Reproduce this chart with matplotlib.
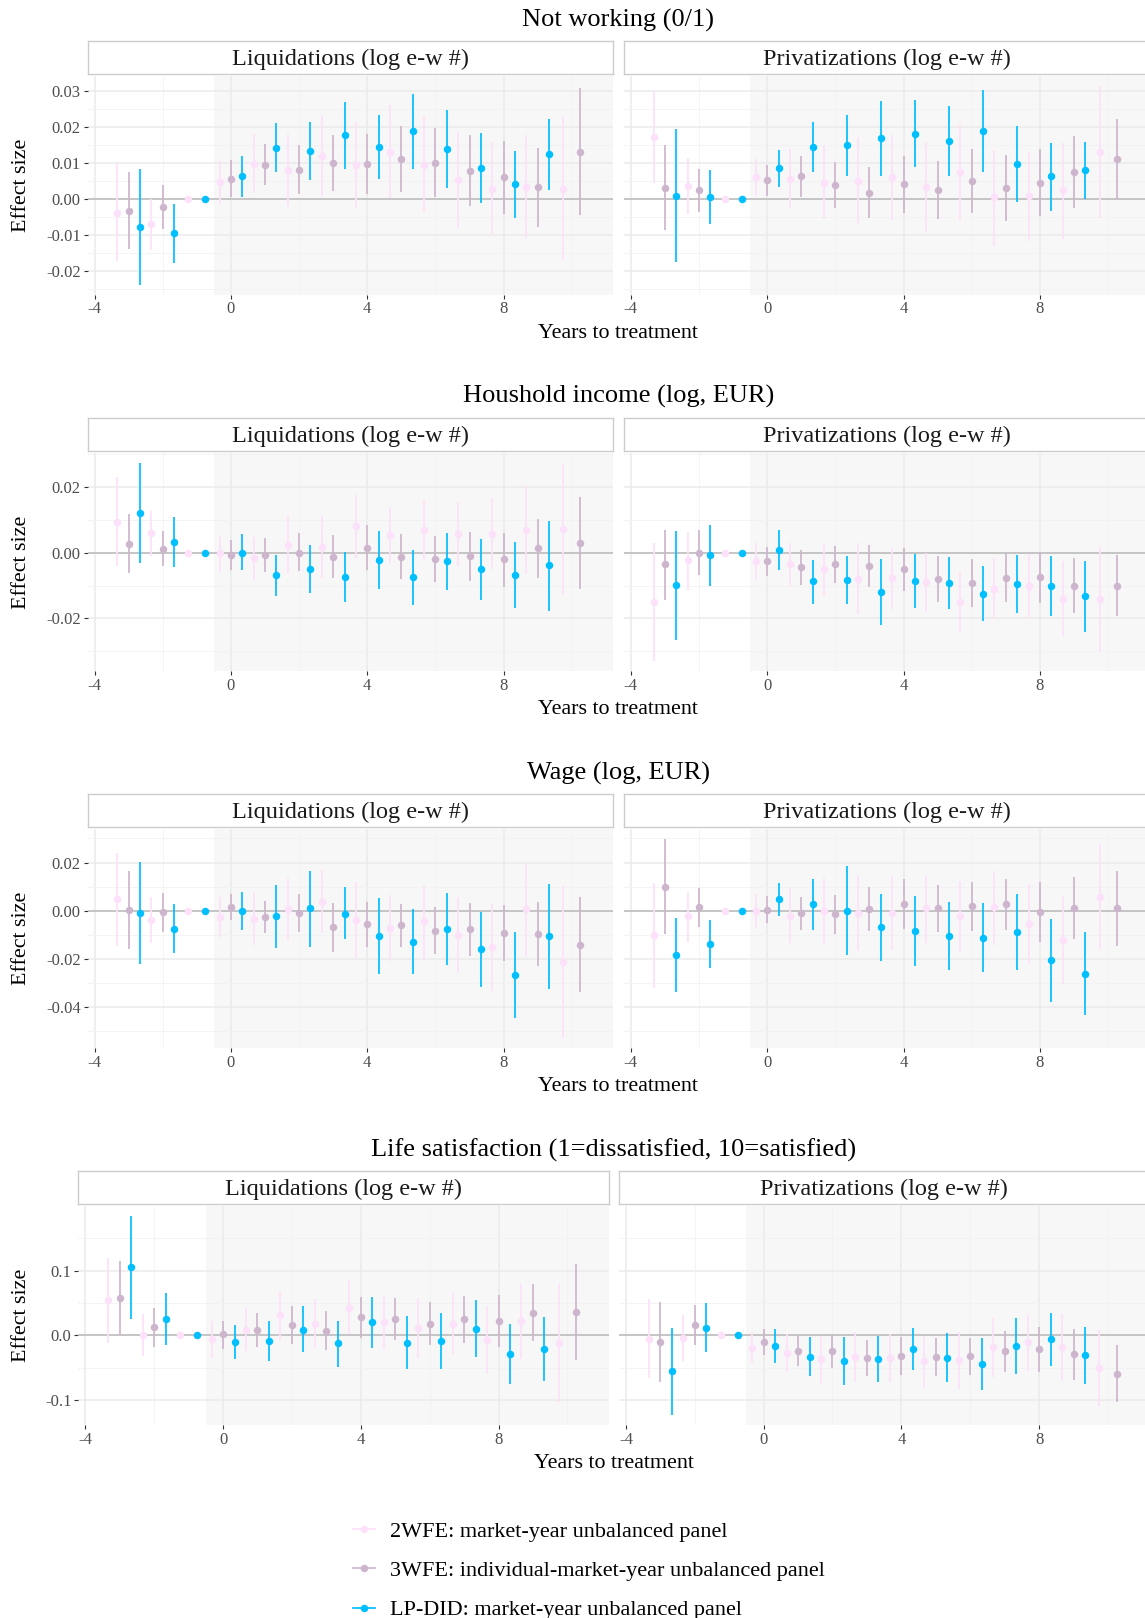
import matplotlib
matplotlib.use("Agg")
import matplotlib.pyplot as plt
from matplotlib.ticker import MultipleLocator, FuncFormatter
from matplotlib.lines import Line2D

plt.rcParams['font.family'] = ['Liberation Serif', 'DejaVu Serif']

# ---------------- data ----------------
T = list(range(-3, 11))  # years to treatment

ROW_TITLES = ["Not working (0/1)", "Houshold income (log, EUR)", "Wage (log, EUR)",
              "Life satisfaction (1=dissatisfied, 10=satisfied)"]
COL_TITLES = ["Liquidations (log e-w #)", "Privatizations (log e-w #)"]
SERIES = ["2WFE: market-year unbalanced panel",
          "3WFE: individual-market-year unbalanced panel",
          "LP-DID: market-year unbalanced panel"]
N = None

# Not working -- Liquidations
NW_LIQ_2WFE = [-0.0039, -0.0070, 0.0, 0.0047, 0.0097, 0.0081, 0.0120, 0.0094, 0.0130, 0.0095, 0.0053, 0.0028, 0.0033, 0.0028]
NW_LIQ_2WFE_LO = [-0.0174, -0.0143, 0.0, -0.0013, 0.0015, -0.0020, 0.0007, -0.0025, 0.0002, -0.0037, -0.0080, -0.0097, -0.0110, -0.0170]
NW_LIQ_2WFE_HI = [0.0097, 0.0000, 0.0, 0.0105, 0.0180, 0.0180, 0.0233, 0.0212, 0.0260, 0.0229, 0.0185, 0.0157, 0.0178, 0.0228]
NW_LIQ_3WFE = [-0.0034, -0.0023, N, 0.0056, 0.0095, 0.0081, 0.0099, 0.0096, 0.0110, 0.0100, 0.0078, 0.0059, 0.0032, 0.0130]
NW_LIQ_3WFE_LO = [-0.0140, -0.0085, N, 0.0006, 0.0037, 0.0012, 0.0022, 0.0012, 0.0018, 0.0006, -0.0021, -0.0042, -0.0077, -0.0046]
NW_LIQ_3WFE_HI = [0.0073, 0.0039, N, 0.0107, 0.0153, 0.0150, 0.0176, 0.0180, 0.0202, 0.0195, 0.0177, 0.0159, 0.0141, 0.0307]
NW_LIQ_LPDID = [-0.0077, -0.0096, 0.0, 0.0063, 0.0142, 0.0132, 0.0176, 0.0143, 0.0187, 0.0138, 0.0085, 0.0040, 0.0123, N]
NW_LIQ_LPDID_LO = [-0.0238, -0.0178, 0.0, 0.0006, 0.0074, 0.0051, 0.0082, 0.0055, 0.0083, 0.0031, -0.0012, -0.0053, 0.0024, N]
NW_LIQ_LPDID_HI = [0.0083, -0.0015, 0.0, 0.0118, 0.0210, 0.0213, 0.0269, 0.0233, 0.0290, 0.0245, 0.0183, 0.0132, 0.0222, N]

# Not working -- Privatizations
NW_PRI_2WFE = [0.0170, 0.0036, 0.0, 0.0061, 0.0055, 0.0044, 0.0050, 0.0059, 0.0033, 0.0074, 0.0004, 0.0008, 0.0023, 0.0130]
NW_PRI_2WFE_LO = [0.0044, -0.0043, 0.0, 0.0009, -0.0025, -0.0056, -0.0070, -0.0059, -0.0091, -0.0059, -0.0130, -0.0117, -0.0111, -0.0052]
NW_PRI_2WFE_HI = [0.0298, 0.0114, 0.0, 0.0111, 0.0137, 0.0145, 0.0171, 0.0176, 0.0157, 0.0207, 0.0134, 0.0129, 0.0155, 0.0313]
NW_PRI_3WFE = [0.0029, 0.0024, N, 0.0051, 0.0062, 0.0038, 0.0017, 0.0041, 0.0024, 0.0049, 0.0029, 0.0044, 0.0074, 0.0110]
NW_PRI_3WFE_LO = [-0.0088, -0.0036, N, 0.0008, 0.0006, -0.0026, -0.0054, -0.0039, -0.0057, -0.0039, -0.0063, -0.0048, -0.0025, 0.0000]
NW_PRI_3WFE_HI = [0.0148, 0.0083, N, 0.0094, 0.0118, 0.0101, 0.0088, 0.0120, 0.0105, 0.0138, 0.0122, 0.0138, 0.0173, 0.0222]
NW_PRI_LPDID = [0.0009, 0.0006, 0.0, 0.0084, 0.0144, 0.0149, 0.0168, 0.0180, 0.0160, 0.0188, 0.0097, 0.0062, 0.0079, N]
NW_PRI_LPDID_LO = [-0.0176, -0.0070, 0.0, 0.0033, 0.0074, 0.0064, 0.0064, 0.0088, 0.0064, 0.0074, -0.0009, -0.0033, 0.0000, N]
NW_PRI_LPDID_HI = [0.0194, 0.0081, 0.0, 0.0134, 0.0212, 0.0233, 0.0272, 0.0274, 0.0256, 0.0301, 0.0203, 0.0154, 0.0157, N]

# Household income -- Liquidations
HI_LIQ_2WFE = [0.0093, 0.0058, 0.0, -0.0001, -0.0018, 0.0023, 0.0016, 0.0080, 0.0052, 0.0068, 0.0055, 0.0057, 0.0068, 0.0071]
HI_LIQ_2WFE_LO = [-0.0041, -0.0011, 0.0, -0.0058, -0.0084, -0.0063, -0.0078, -0.0015, -0.0033, -0.0021, -0.0042, -0.0051, -0.0065, -0.0126]
HI_LIQ_2WFE_HI = [0.0228, 0.0126, 0.0, 0.0050, 0.0048, 0.0110, 0.0110, 0.0176, 0.0139, 0.0159, 0.0153, 0.0165, 0.0201, 0.0269]
HI_LIQ_3WFE = [0.0026, 0.0012, N, -0.0008, -0.0006, 0.0000, -0.0012, 0.0015, -0.0013, -0.0020, -0.0011, -0.0021, 0.0013, 0.0029]
HI_LIQ_3WFE_LO = [-0.0062, -0.0041, N, -0.0053, -0.0058, -0.0057, -0.0078, -0.0054, -0.0080, -0.0089, -0.0085, -0.0104, -0.0076, -0.0112]
HI_LIQ_3WFE_HI = [0.0116, 0.0064, N, 0.0037, 0.0045, 0.0060, 0.0053, 0.0084, 0.0055, 0.0049, 0.0063, 0.0059, 0.0103, 0.0170]
HI_LIQ_LPDID = [0.0121, 0.0031, 0.0, 0.0000, -0.0069, -0.0049, -0.0073, -0.0022, -0.0075, -0.0027, -0.0051, -0.0069, -0.0038, N]
HI_LIQ_LPDID_LO = [-0.0031, -0.0043, 0.0, -0.0053, -0.0133, -0.0123, -0.0149, -0.0111, -0.0159, -0.0115, -0.0144, -0.0169, -0.0176, N]
HI_LIQ_LPDID_HI = [0.0273, 0.0108, 0.0, 0.0056, -0.0006, 0.0024, 0.0002, 0.0066, 0.0007, 0.0059, 0.0041, 0.0031, 0.0097, N]

# Household income -- Privatizations
HI_PRI_2WFE = [-0.0150, -0.0024, 0.0, -0.0025, -0.0036, -0.0050, -0.0079, -0.0078, -0.0089, -0.0150, -0.0110, -0.0100, -0.0140, -0.0140]
HI_PRI_2WFE_LO = [-0.0330, -0.0114, 0.0, -0.0079, -0.0102, -0.0132, -0.0188, -0.0172, -0.0177, -0.0241, -0.0200, -0.0199, -0.0254, -0.0300]
HI_PRI_2WFE_HI = [0.0029, 0.0063, 0.0, 0.0029, 0.0029, 0.0030, 0.0028, 0.0015, -0.0002, -0.0059, -0.0018, -0.0003, -0.0026, 0.0017]
HI_PRI_3WFE = [-0.0036, 0.0000, N, -0.0026, -0.0044, -0.0035, -0.0041, -0.0050, -0.0080, -0.0091, -0.0077, -0.0074, -0.0100, -0.0100]
HI_PRI_3WFE_LO = [-0.0143, -0.0069, N, -0.0070, -0.0098, -0.0093, -0.0104, -0.0116, -0.0150, -0.0164, -0.0151, -0.0152, -0.0184, -0.0194]
HI_PRI_3WFE_HI = [0.0069, 0.0067, N, 0.0017, 0.0009, 0.0021, 0.0022, 0.0015, -0.0011, -0.0021, -0.0003, 0.0002, -0.0017, -0.0007]
HI_PRI_LPDID = [-0.0098, -0.0007, 0.0, 0.0009, -0.0087, -0.0083, -0.0120, -0.0085, -0.0091, -0.0125, -0.0095, -0.0103, -0.0133, N]
HI_PRI_LPDID_LO = [-0.0264, -0.0102, 0.0, -0.0053, -0.0156, -0.0157, -0.0220, -0.0169, -0.0172, -0.0208, -0.0184, -0.0194, -0.0240, N]
HI_PRI_LPDID_HI = [0.0066, 0.0085, 0.0, 0.0069, -0.0022, -0.0011, -0.0020, -0.0003, -0.0013, -0.0042, -0.0008, -0.0011, -0.0026, N]

# Wage -- Liquidations
WG_LIQ_2WFE = [0.0047, -0.0037, 0.0, -0.0025, -0.0033, 0.0008, 0.0037, -0.0040, -0.0073, -0.0044, -0.0101, -0.0151, 0.0008, -0.0211]
WG_LIQ_2WFE_LO = [-0.0148, -0.0132, 0.0, -0.0108, -0.0142, -0.0122, -0.0093, -0.0199, -0.0210, -0.0199, -0.0256, -0.0332, -0.0190, -0.0527]
WG_LIQ_2WFE_HI = [0.0241, 0.0058, 0.0, 0.0055, 0.0075, 0.0134, 0.0167, 0.0118, 0.0064, 0.0108, 0.0055, 0.0030, 0.0197, 0.0104]
WG_LIQ_3WFE = [0.0003, -0.0005, N, 0.0016, -0.0026, -0.0008, -0.0068, -0.0056, -0.0060, -0.0084, -0.0077, -0.0093, -0.0096, -0.0140]
WG_LIQ_3WFE_LO = [-0.0159, -0.0088, N, -0.0038, -0.0093, -0.0088, -0.0170, -0.0151, -0.0151, -0.0181, -0.0186, -0.0210, -0.0230, -0.0336]
WG_LIQ_3WFE_HI = [0.0163, 0.0075, N, 0.0068, 0.0041, 0.0071, 0.0033, 0.0038, 0.0030, 0.0014, 0.0034, 0.0025, 0.0037, 0.0056]
WG_LIQ_LPDID = [-0.0008, -0.0075, 0.0, 0.0000, -0.0023, 0.0011, -0.0012, -0.0104, -0.0129, -0.0077, -0.0160, -0.0267, -0.0105, N]
WG_LIQ_LPDID_LO = [-0.0219, -0.0174, 0.0, -0.0081, -0.0153, -0.0149, -0.0119, -0.0262, -0.0264, -0.0223, -0.0314, -0.0444, -0.0325, N]
WG_LIQ_LPDID_HI = [0.0203, 0.0026, 0.0, 0.0079, 0.0107, 0.0166, 0.0097, 0.0053, 0.0008, 0.0073, -0.0007, -0.0088, 0.0112, N]

# Wage -- Privatizations
WG_PRI_2WFE = [-0.0100, -0.0022, 0.0, 0.0000, -0.0021, -0.0003, -0.0011, -0.0011, 0.0010, -0.0022, 0.0014, -0.0056, -0.0121, 0.0058]
WG_PRI_2WFE_LO = [-0.0318, -0.0129, 0.0, -0.0070, -0.0134, -0.0142, -0.0168, -0.0162, -0.0134, -0.0168, -0.0142, -0.0220, -0.0304, -0.0160]
WG_PRI_2WFE_HI = [0.0116, 0.0078, 0.0, 0.0068, 0.0093, 0.0136, 0.0148, 0.0142, 0.0145, 0.0120, 0.0163, 0.0110, 0.0063, 0.0275]
WG_PRI_3WFE = [0.0100, 0.0016, N, 0.0004, -0.0011, -0.0012, 0.0008, 0.0030, 0.0011, 0.0018, 0.0027, -0.0005, 0.0012, 0.0011]
WG_PRI_3WFE_LO = [-0.0097, -0.0066, N, -0.0052, -0.0079, -0.0095, -0.0085, -0.0074, -0.0089, -0.0084, -0.0079, -0.0130, -0.0116, -0.0148]
WG_PRI_3WFE_HI = [0.0296, 0.0096, N, 0.0060, 0.0056, 0.0067, 0.0100, 0.0132, 0.0105, 0.0118, 0.0132, 0.0118, 0.0140, 0.0164]
WG_PRI_LPDID = [-0.0184, -0.0138, 0.0, 0.0048, 0.0026, 0.0000, -0.0067, -0.0084, -0.0104, -0.0111, -0.0086, -0.0205, -0.0260, N]
WG_PRI_LPDID_LO = [-0.0336, -0.0238, 0.0, -0.0021, -0.0081, -0.0182, -0.0207, -0.0230, -0.0247, -0.0252, -0.0244, -0.0378, -0.0433, N]
WG_PRI_LPDID_HI = [-0.0032, -0.0038, 0.0, 0.0115, 0.0132, 0.0184, 0.0070, 0.0063, 0.0037, 0.0032, 0.0068, -0.0034, -0.0088, N]

# Life satisfaction -- Liquidations
LS_LIQ_2WFE = [0.054, 0.000, 0.0, -0.0056, 0.0092, 0.031, 0.018, 0.043, 0.020, 0.0117, 0.018, -0.0066, 0.022, -0.0117]
LS_LIQ_2WFE_LO = [-0.011, -0.032, 0.0, -0.034, -0.024, -0.007, -0.020, 0.0015, -0.021, -0.034, -0.029, -0.058, -0.036, -0.103]
LS_LIQ_2WFE_HI = [0.120, 0.033, 0.0, 0.022, 0.042, 0.069, 0.056, 0.085, 0.062, 0.058, 0.066, 0.045, 0.080, 0.079]
LS_LIQ_3WFE = [0.057, 0.0128, N, 0.0015, 0.0087, 0.016, 0.0071, 0.028, 0.025, 0.018, 0.025, 0.022, 0.035, 0.036]
LS_LIQ_3WFE_LO = [0.0005, -0.017, N, -0.021, -0.018, -0.013, -0.023, -0.004, -0.007, -0.014, -0.011, -0.018, -0.0087, -0.038]
LS_LIQ_3WFE_HI = [0.114, 0.043, N, 0.023, 0.034, 0.046, 0.037, 0.060, 0.057, 0.051, 0.061, 0.062, 0.079, 0.110]
LS_LIQ_LPDID = [0.105, 0.0255, 0.0, -0.0097, -0.0087, 0.0092, -0.0122, 0.020, -0.0112, -0.0082, 0.0107, -0.0286, -0.021, N]
LS_LIQ_LPDID_LO = [0.026, -0.015, 0.0, -0.036, -0.039, -0.026, -0.048, -0.020, -0.052, -0.0515, -0.033, -0.075, -0.070, N]
LS_LIQ_LPDID_HI = [0.184, 0.066, 0.0, 0.016, 0.022, 0.045, 0.023, 0.060, 0.030, 0.035, 0.054, 0.018, 0.028, N]

# Life satisfaction -- Privatizations
LS_PRI_2WFE = [-0.0051, -0.0046, 0.0, -0.019, -0.0265, -0.037, -0.033, -0.035, -0.040, -0.038, -0.018, -0.0107, -0.018, -0.050]
LS_PRI_2WFE_LO = [-0.066, -0.040, 0.0, -0.043, -0.057, -0.075, -0.071, -0.072, -0.080, -0.082, -0.064, -0.055, -0.070, -0.109]
LS_PRI_2WFE_HI = [0.0566, 0.031, 0.0, 0.0046, 0.002, -0.0015, 0.0046, 0.0015, -0.001, 0.0056, 0.0276, 0.032, 0.033, 0.0092]
LS_PRI_3WFE = [-0.0097, 0.0163, N, -0.0097, -0.024, -0.024, -0.0347, -0.032, -0.0327, -0.0316, -0.024, -0.0214, -0.0286, -0.059]
LS_PRI_3WFE_LO = [-0.071, -0.015, N, -0.030, -0.047, -0.050, -0.062, -0.061, -0.062, -0.061, -0.0556, -0.057, -0.068, -0.1026]
LS_PRI_3WFE_HI = [0.051, 0.047, N, 0.0102, -0.001, 0.0015, -0.007, -0.0026, -0.004, -0.004, 0.007, 0.0138, 0.0102, -0.015]
LS_PRI_LPDID = [-0.0546, 0.0122, 0.0, -0.0158, -0.0327, -0.039, -0.037, -0.0204, -0.0347, -0.044, -0.0163, -0.0061, -0.0306, N]
LS_PRI_LPDID_LO = [-0.122, -0.025, 0.0, -0.042, -0.062, -0.0765, -0.0714, -0.053, -0.072, -0.084, -0.059, -0.047, -0.0745, N]
LS_PRI_LPDID_HI = [0.0117, 0.0495, 0.0, 0.0102, -0.003, -0.0026, -0.0015, 0.012, 0.004, -0.004, 0.027, 0.0347, 0.0133, N]

PANEL_DATA = {
    (0, 0): [(NW_LIQ_2WFE, NW_LIQ_2WFE_LO, NW_LIQ_2WFE_HI), (NW_LIQ_3WFE, NW_LIQ_3WFE_LO, NW_LIQ_3WFE_HI), (NW_LIQ_LPDID, NW_LIQ_LPDID_LO, NW_LIQ_LPDID_HI)],
    (0, 1): [(NW_PRI_2WFE, NW_PRI_2WFE_LO, NW_PRI_2WFE_HI), (NW_PRI_3WFE, NW_PRI_3WFE_LO, NW_PRI_3WFE_HI), (NW_PRI_LPDID, NW_PRI_LPDID_LO, NW_PRI_LPDID_HI)],
    (1, 0): [(HI_LIQ_2WFE, HI_LIQ_2WFE_LO, HI_LIQ_2WFE_HI), (HI_LIQ_3WFE, HI_LIQ_3WFE_LO, HI_LIQ_3WFE_HI), (HI_LIQ_LPDID, HI_LIQ_LPDID_LO, HI_LIQ_LPDID_HI)],
    (1, 1): [(HI_PRI_2WFE, HI_PRI_2WFE_LO, HI_PRI_2WFE_HI), (HI_PRI_3WFE, HI_PRI_3WFE_LO, HI_PRI_3WFE_HI), (HI_PRI_LPDID, HI_PRI_LPDID_LO, HI_PRI_LPDID_HI)],
    (2, 0): [(WG_LIQ_2WFE, WG_LIQ_2WFE_LO, WG_LIQ_2WFE_HI), (WG_LIQ_3WFE, WG_LIQ_3WFE_LO, WG_LIQ_3WFE_HI), (WG_LIQ_LPDID, WG_LIQ_LPDID_LO, WG_LIQ_LPDID_HI)],
    (2, 1): [(WG_PRI_2WFE, WG_PRI_2WFE_LO, WG_PRI_2WFE_HI), (WG_PRI_3WFE, WG_PRI_3WFE_LO, WG_PRI_3WFE_HI), (WG_PRI_LPDID, WG_PRI_LPDID_LO, WG_PRI_LPDID_HI)],
    (3, 0): [(LS_LIQ_2WFE, LS_LIQ_2WFE_LO, LS_LIQ_2WFE_HI), (LS_LIQ_3WFE, LS_LIQ_3WFE_LO, LS_LIQ_3WFE_HI), (LS_LIQ_LPDID, LS_LIQ_LPDID_LO, LS_LIQ_LPDID_HI)],
    (3, 1): [(LS_PRI_2WFE, LS_PRI_2WFE_LO, LS_PRI_2WFE_HI), (LS_PRI_3WFE, LS_PRI_3WFE_LO, LS_PRI_3WFE_HI), (LS_PRI_LPDID, LS_PRI_LPDID_LO, LS_PRI_LPDID_HI)],
}

# ---------------- style ----------------
COLORS = ['#FDE0FA', '#CDB5CD', '#00BFFF']
Y_STEP = [0.01, 0.02, 0.02, 0.1]
Y_DEC = [2, 2, 2, 1]

W, H = 1145, 1618
fig = plt.figure(figsize=(W / 100, H / 100), dpi=100)
fig.patch.set_facecolor('white')


def rect(l, t, w, h):
    return [l / W, 1 - (t + h) / H, w / W, h / H]


ROW_PITCH = 376.7
PANEL_TOP0 = 76.0
PANEL_H = 218.5
TITLE_FS, STRIP_FS, LAB_FS, TICK_FS, LEG_FS = 19, 17.5, 15.8, 12, 16


def dodge(series_list):
    n_t = len(T)
    xs = [[None] * n_t for _ in series_list]
    for i in range(n_t):
        present = [k for k, s in enumerate(series_list) if s[0][i] is not None]
        n = len(present)
        for j, k in enumerate(present):
            xs[k][i] = T[i] + (j + 0.5) / n - 0.5
    return xs

x_span = (max(T) + 0.5) - (min(T) - 0.5)
XLIM = (min(T) - 0.5 - 0.05 * x_span, max(T) + 0.5 + 0.05 * x_span)


def fmt_factory(dec):
    def f(v, pos):
        if abs(v) < 1e-12:
            v = 0.0
        return f"{v:.{dec}f}"
    return f


for r in range(4):
    top = PANEL_TOP0 + r * ROW_PITCH
    if r < 3:
        lefts, pw = [87.7, 624.0], 525.0
    else:
        lefts, pw = [78.4, 619.0], 530.3
    vals = []
    for c in range(2):
        for est, lo, hi in PANEL_DATA[(r, c)]:
            vals += [v for v in lo if v is not None] + [v for v in hi if v is not None]
    ymin, ymax = min(vals), max(vals)
    yr = ymax - ymin
    ylim = (ymin - 0.05 * yr, ymax + 0.05 * yr)

    for c in range(2):
        ax = fig.add_axes(rect(lefts[c], top, pw, PANEL_H))
        ax.set_xlim(*XLIM)
        ax.set_ylim(*ylim)
        for sp in ax.spines.values():
            sp.set_visible(False)
        ax.set_axisbelow(True)
        ax.axvspan(-0.5, XLIM[1], color='#F7F7F7', zorder=0.1, lw=0)
        ax.xaxis.set_major_locator(MultipleLocator(4))
        ax.xaxis.set_minor_locator(MultipleLocator(2))
        ax.yaxis.set_major_locator(MultipleLocator(Y_STEP[r]))
        ax.yaxis.set_minor_locator(MultipleLocator(Y_STEP[r] / 2))
        ax.grid(which='major', color='#EBEBEB', lw=1.1)
        ax.grid(which='minor', color='#F2F2F2', lw=0.6)
        ax.xaxis.set_major_formatter(FuncFormatter(lambda v, p: f"{int(round(v))}"))
        ax.yaxis.set_major_formatter(FuncFormatter(fmt_factory(Y_DEC[r])))
        ax.tick_params(which='major', direction='out', length=3, width=0.8, color='#333333',
                       labelsize=TICK_FS, labelcolor='#4D4D4D', pad=2)
        ax.tick_params(which='minor', length=0)
        if c == 1:
            ax.tick_params(axis='y', which='both', left=False, labelleft=False)
        ax.axhline(0, color='#BEBEBE', lw=1.2, zorder=1)

        series_list = PANEL_DATA[(r, c)]
        xs = dodge(series_list)
        for k, (est, lo, hi) in enumerate(series_list):
            px = [x for x, e in zip(xs[k], est) if e is not None]
            pe = [e for e in est if e is not None]
            pl = [l for l, e in zip(lo, est) if e is not None]
            ph = [h for h, e in zip(hi, est) if e is not None]
            ax.vlines(px, pl, ph, color=COLORS[k], lw=1.25, zorder=2 + k)
            ax.plot(px, pe, 'o', ms=5.4, color=COLORS[k], mec='none', zorder=2.5 + k)

        sax = fig.add_axes(rect(lefts[c], top - 35, pw, 33))
        sax.set_xticks([]); sax.set_yticks([])
        sax.set_facecolor('white')
        for sp in sax.spines.values():
            sp.set_color('#CCCCCC'); sp.set_linewidth(1.0)
        sax.text(0.5, 0.44, COL_TITLES[c], ha='center', va='center', fontsize=STRIP_FS,
                 color='#1A1A1A', transform=sax.transAxes)

    cx = (lefts[0] + lefts[1] + pw) / 2
    fig.text(cx / W, 1 - (20.0 + r * ROW_PITCH) / H, ROW_TITLES[r], ha='center', va='center',
             fontsize=TITLE_FS, color='black')
    fig.text(cx / W, 1 - (333 + r * ROW_PITCH) / H, "Years to treatment", ha='center', va='center',
             fontsize=LAB_FS, color='black')
    fig.text(21.7 / W, 1 - (top + PANEL_H / 2) / H, "Effect size", ha='center', va='center',
             rotation=90, fontsize=LAB_FS, color='black')

handles = [Line2D([], [], color=c, marker='o', ms=5.4, mec='none', lw=1.25) for c in COLORS]
fig.legend(handles, SERIES, loc='upper left', bbox_to_anchor=(353 / W, 1 - 1521 / H),
           frameon=False, fontsize=LEG_FS, handlelength=1.0, handletextpad=0.65,
           labelspacing=0.85, borderpad=0, borderaxespad=0)

fig.savefig('out.png', dpi=100, facecolor='white')
